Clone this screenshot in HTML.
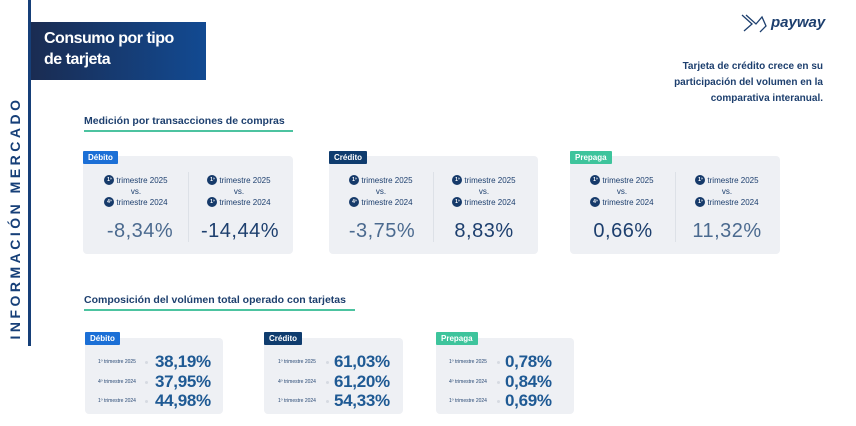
<!DOCTYPE html>
<html><head><meta charset="utf-8"><style>
*{margin:0;padding:0;box-sizing:border-box}
body{width:856px;height:426px;background:#fff;position:relative;overflow:hidden;font-family:"Liberation Sans",sans-serif;color:#1d3f6e}
.a{position:absolute}
.card{position:absolute;background:#eef0f4;border-radius:4px}
.tag{position:absolute;color:#fff;font-size:8px;font-weight:bold;padding:0 5px;height:13px;line-height:13px;border-radius:1px}
.lbl{position:absolute;font-size:8px;color:#1d3f6e;text-align:center;width:100px;line-height:11px}
.c{display:inline-block;width:10px;height:10px;border-radius:50%;background:#163a6a;color:#fff;font-size:5px;line-height:10px;text-align:center;vertical-align:-2px;margin-right:2px;font-weight:bold;overflow:hidden}
.big{position:absolute;font-size:20px;width:100px;text-align:center;letter-spacing:0.5px}
.lt{color:#4b6a8f}.dk{color:#1d3f6e}
.div{position:absolute;width:1px;background:#dde1e7}
.row{position:absolute;font-size:5px;color:#2a4a75;white-space:nowrap}
.v{position:absolute;font-size:17px;color:#1f5a94;letter-spacing:-0.3px;font-weight:bold}
.dot{position:absolute;width:3px;height:3px;border-radius:50%;background:#d6dae2}
</style></head><body>
<div class="a" style="left:28px;top:0;width:3px;height:346px;background:#163f78"></div>
<div class="a" style="left:-112px;top:210px;width:254px;text-align:center;transform:rotate(-90deg);font-size:14px;font-weight:bold;letter-spacing:3.5px;color:#163f78">INFORMACIÓN MERCADO</div>
<div class="a" style="left:31px;top:22px;width:175px;height:58px;background:linear-gradient(90deg,#1a2c52,#124a92)"></div>
<div class="a" style="left:44px;top:28px;color:#fff;font-size:16px;font-weight:bold;line-height:21px;letter-spacing:-0.5px">Consumo por tipo<br>de tarjeta</div>
<svg class="a" style="left:740px;top:12px" width="28" height="22" viewBox="0 0 28 22"><path d="M2 3 L12 12 L4 19 M6 3 L16 12 L22 5 L26 14 L20 20" fill="none" stroke="#1d3f6e" stroke-width="1.3"/></svg>
<div class="a" style="left:771px;top:14px;font-size:15px;font-weight:bold;font-style:italic;color:#1d3f6e">payway</div>
<div class="a" style="left:640px;top:59px;width:183px;text-align:right;font-size:10px;font-weight:bold;line-height:16px;color:#1d3f6e">Tarjeta de crédito crece en su participación del volumen en la comparativa interanual.</div>

<div class="a" style="left:84px;top:115px;font-size:10.5px;font-weight:bold;color:#1d3f6e">Medición por transacciones de compras</div>
<div class="a" style="left:84px;top:130px;width:209px;height:2px;background:#4cc3a0"></div>

<div class="card" style="left:83px;top:156px;width:210px;height:98px"></div>
<div class="div" style="left:188px;top:172px;height:70px"></div>
<div class="tag" style="left:83px;top:151px;background:#1b6fd6">Débito</div>
<div class="lbl" style="left:86px;top:175px"><span class="c">1º</span>trimestre 2025<br>vs.<br><span class="c">4º</span>trimestre 2024</div>
<div class="lbl" style="left:189px;top:175px"><span class="c">1º</span>trimestre 2025<br>vs.<br><span class="c">1º</span>trimestre 2024</div>
<div class="big lt" style="left:90px;top:220px">-8,34%</div>
<div class="big dk" style="left:190px;top:220px">-14,44%</div>

<div class="card" style="left:329px;top:156px;width:209px;height:98px"></div>
<div class="div" style="left:433px;top:172px;height:70px"></div>
<div class="tag" style="left:329px;top:151px;background:#0f3c6e">Crédito</div>
<div class="lbl" style="left:331px;top:175px"><span class="c">1º</span>trimestre 2025<br>vs.<br><span class="c">4º</span>trimestre 2024</div>
<div class="lbl" style="left:434px;top:175px"><span class="c">1º</span>trimestre 2025<br>vs.<br><span class="c">1º</span>trimestre 2024</div>
<div class="big lt" style="left:332px;top:220px">-3,75%</div>
<div class="big dk" style="left:434px;top:220px">8,83%</div>

<div class="card" style="left:570px;top:156px;width:210px;height:98px"></div>
<div class="div" style="left:675px;top:172px;height:70px"></div>
<div class="tag" style="left:570px;top:151px;background:#3ec49c">Prepaga</div>
<div class="lbl" style="left:572px;top:175px"><span class="c">1º</span>trimestre 2025<br>vs.<br><span class="c">4º</span>trimestre 2024</div>
<div class="lbl" style="left:677px;top:175px"><span class="c">1º</span>trimestre 2025<br>vs.<br><span class="c">1º</span>trimestre 2024</div>
<div class="big dk" style="left:573px;top:220px">0,66%</div>
<div class="big lt" style="left:677px;top:220px">11,32%</div>

<div class="a" style="left:84px;top:294px;font-size:10.5px;font-weight:bold;color:#1d3f6e">Composición del volúmen total operado con tarjetas</div>
<div class="a" style="left:84px;top:309px;width:271px;height:2px;background:#4cc3a0"></div>

<div class="card" style="left:85px;top:338px;width:138px;height:76px"></div>
<div class="tag" style="left:85px;top:332px;background:#1b6fd6">Débito</div>
<div class="row" style="left:98px;top:359px">1º trimestre 2025</div>
<div class="row" style="left:98px;top:379px">4º trimestre 2024</div>
<div class="row" style="left:98px;top:398px">1º trimestre 2024</div>
<div class="dot" style="left:145px;top:361px"></div><div class="dot" style="left:145px;top:381px"></div><div class="dot" style="left:145px;top:400px"></div>
<div class="v" style="left:155px;top:352px">38,19%</div>
<div class="v" style="left:155px;top:372px">37,95%</div>
<div class="v" style="left:155px;top:391px">44,98%</div>

<div class="card" style="left:264px;top:338px;width:139px;height:76px"></div>
<div class="tag" style="left:264px;top:332px;background:#0f3c6e">Crédito</div>
<div class="row" style="left:278px;top:359px">1º trimestre 2025</div>
<div class="row" style="left:278px;top:379px">4º trimestre 2024</div>
<div class="row" style="left:278px;top:398px">1º trimestre 2024</div>
<div class="dot" style="left:326px;top:361px"></div><div class="dot" style="left:326px;top:381px"></div><div class="dot" style="left:326px;top:400px"></div>
<div class="v" style="left:334px;top:352px">61,03%</div>
<div class="v" style="left:334px;top:372px">61,20%</div>
<div class="v" style="left:334px;top:391px">54,33%</div>

<div class="card" style="left:436px;top:338px;width:138px;height:76px"></div>
<div class="tag" style="left:436px;top:332px;background:#3ec49c">Prepaga</div>
<div class="row" style="left:449px;top:359px">1º trimestre 2025</div>
<div class="row" style="left:449px;top:379px">4º trimestre 2024</div>
<div class="row" style="left:449px;top:398px">1º trimestre 2024</div>
<div class="dot" style="left:497px;top:361px"></div><div class="dot" style="left:497px;top:381px"></div><div class="dot" style="left:497px;top:400px"></div>
<div class="v" style="left:505px;top:352px">0,78%</div>
<div class="v" style="left:505px;top:372px">0,84%</div>
<div class="v" style="left:505px;top:391px">0,69%</div>
</body></html>
